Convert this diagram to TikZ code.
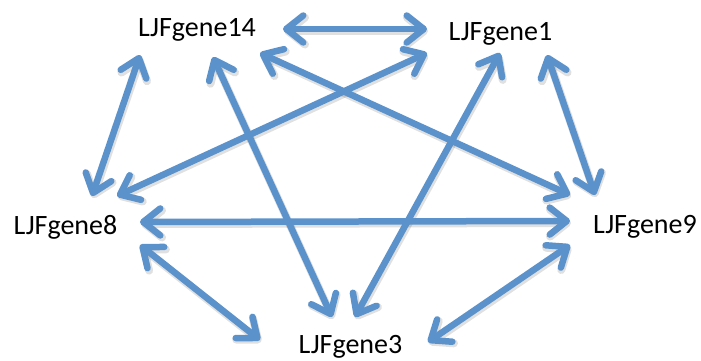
\documentclass[tikz,border=0pt]{standalone}
\usepackage{fontspec}
\setmainfont{Carlito}
\usetikzlibrary{arrows.meta,calc}
\definecolor{linkblue}{RGB}{91,146,203}
\tikzset{
  barb/.tip={Straight Barb[length=17pt,width=27pt,line cap=round,line join=round]},
  gene/.style={anchor=base, inner sep=0pt, font=\fontsize{28}{32}\selectfont},
  link/.style={draw=linkblue, line width=6.5pt, barb-barb},
  linkshadow/.style={draw=black, opacity=0.12, line width=8pt, barb-barb}
}
\begin{document}
\begin{tikzpicture}[x=1pt,y=-1pt]
\useasboundingbox (0,0) rectangle (701,360);
\fill[white] (0,0) rectangle (701,360);

\node[gene] (g14) at (197,36) {LJFgene14};
\node[gene] (g1) at (500.5,40) {LJFgene1};
\node[gene] (g8) at (65.5,234.3) {LJFgene8};
\node[gene] (g9) at (645,233.7) {LJFgene9};
\node[gene] (g3) at (350.5,353) {LJFgene3};

% end points are given as offsets from each label's base point
\def\links{
  g14/{86,-7}/g1/{-73.5,-11},
  g14/{63,17}/g9/{-75,-38.7},
  g8/{51.5,-38.3}/g1/{-73.5,13},
  g14/{-57,19}/g8/{26.5,-38.3},
  g14/{16,21}/g3/{-18.5,-36},
  g1/{-0.5,13}/g3/{4.5,-36},
  g1/{46.5,15}/g9/{-50,-38.7},
  g8/{74.5,-12.3}/g9/{-75,-12.7},
  g8/{74.5,10.7}/g3/{-90.5,-13},
  g3/{77.5,-11}/g9/{-75,11.3}}

\foreach \a/\da/\b/\db in \links
{
  \path[linkshadow] ($(\a.base)+(\da)+(1,2)$) -- ($(\b.base)+(\db)+(1,2)$);
}
\foreach \a/\da/\b/\db in \links
{
  \path[link] ($(\a.base)+(\da)$) -- ($(\b.base)+(\db)$);
}
\end{tikzpicture}
\end{document}
